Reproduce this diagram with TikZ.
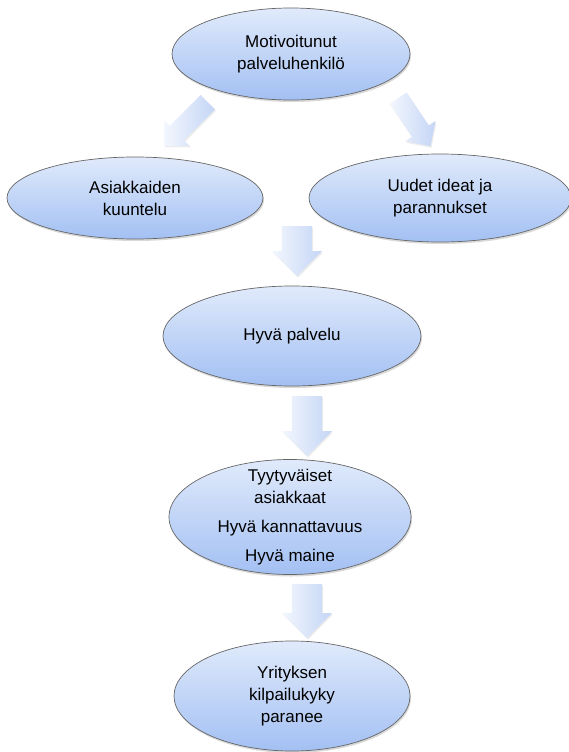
\documentclass[tikz,border=0pt]{standalone}
\usepackage{fontspec}
\setmainfont{Liberation Sans}
\usetikzlibrary{shapes.geometric,shapes.arrows,shadows}
\definecolor{bubtop}{RGB}{224,234,251}
\definecolor{bubbot}{RGB}{163,192,243}
\definecolor{arrtop}{RGB}{243,247,254}
\definecolor{arrbot}{RGB}{196,213,245}
\begin{document}
\begin{tikzpicture}[
		x=1pt, y=-1pt,
		bubble/.style={ellipse, draw=black!60, line width=0.7pt, top color=bubtop, bottom color=bubbot,
			drop shadow={opacity=0.3, shadow xshift=1pt, shadow yshift=-2pt},
			align=center, inner sep=0pt, font=\fontsize{17}{22}\selectfont},
		bigarrow/.style={single arrow, draw=none, inner xsep=0pt, inner ysep=15pt,
			single arrow head extend=10pt, left color=arrtop, right color=arrbot,
			drop shadow={opacity=0.15, shadow xshift=1pt, shadow yshift=-1.5pt}},
		smallarrow/.style={bigarrow, inner ysep=10pt, single arrow head extend=8pt}
		]
		\useasboundingbox (0,0) rectangle (569,752);
		
		\node[bubble, minimum width=238pt, minimum height=92pt] (mot) at (291,54) {Motivoitunut\\palveluhenkilö};
		\node[bubble, minimum width=256pt, minimum height=82pt] (asi) at (135,198) {Asiakkaiden\\kuuntelu};
		\node[bubble, minimum width=262pt, minimum height=88pt] (uud) at (440,198) {Uudet ideat ja\\parannukset};
		\node[bubble, minimum width=258pt, minimum height=100pt] (hyva) at (292,336) {Hyvä palvelu};
		\node[bubble, minimum width=242pt, minimum height=115pt, inner ysep=-10pt] (tyy) at (290,517)
			{Tyytyväiset\\asiakkaat\\[7pt]Hyvä kannattavuus\\[7pt]Hyvä maine};
		\node[bubble, minimum width=236pt, minimum height=110pt] (yri) at (292,696) {Yrityksen\\kilpailukyky\\paranee};
		
		% block arrows
		\node[smallarrow, rotate=225, minimum height=62pt, anchor=tail] (aasi) at (208,102) {};
		\node[smallarrow, rotate=304, minimum height=58pt, anchor=tail] (auud) at (398,98) {};
		\node[bigarrow, rotate=-90, minimum height=50pt, anchor=tail] (ahyva) at (297,226) {};
		\node[bigarrow, rotate=-90, minimum height=60pt, anchor=tail] (atyy) at (307,396) {};
		\node[bigarrow, rotate=-90, minimum height=54pt, anchor=tail] (ayri) at (307,584) {};
		
	\end{tikzpicture}
\end{document}
